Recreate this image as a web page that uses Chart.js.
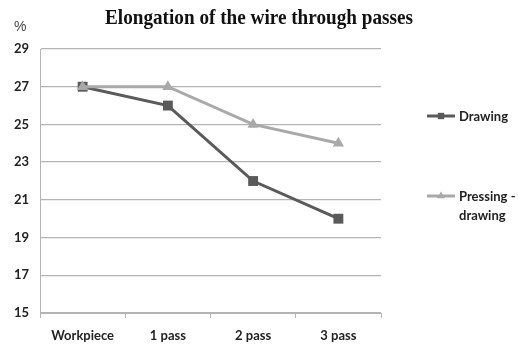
<!DOCTYPE html>
<html>
<head>
<meta charset="utf-8">
<script src="https://cdn.jsdelivr.net/npm/chart.js@4/dist/chart.umd.min.js"></script>
<style>
  html, body { margin: 0; padding: 0; background: #fff; }
  #wrap { width: 518px; height: 351px; position: relative; }
</style>
</head>
<body>
<div id="wrap"><canvas id="c"></canvas></div>
<script>
// Datos
const categories = ['Workpiece', '1 pass', '2 pass', '3 pass'];
const drawing = [27, 26, 22, 20];
const pressingDrawing = [27, 27, 25, 24];
const yTicks = [15, 17, 19, 21, 23, 25, 27, 29];

const TITLE = 'Elongation of the wire through passes';
const COLOR_DRAW  = '#5a5a5a';
const COLOR_PRESS = '#a9a9a9';
const COLOR_GRID  = '#b4b4b4';
const COLOR_TEXT  = '#222';
const SANS = 'Lato, "DejaVu Sans Condensed", sans-serif';

// texto comprimido horizontalmente (el original está algo estirado)
function squeezedText(ctx, text, x, y, width, font, align) {
  ctx.save();
  ctx.font = font;
  const w = ctx.measureText(text).width;
  const s = Math.min(1, width / w);
  ctx.translate(x, y);
  ctx.scale(s, 1);
  ctx.textAlign = align || 'center';
  ctx.fillText(text, 0, 0);
  ctx.restore();
}

// título, "%" y leyenda dibujados a mano
const decor = {
  id: 'decor',
  afterDraw(chart) {
    const ctx = chart.ctx;
    ctx.save();
    ctx.fillStyle = '#111';
    ctx.textBaseline = 'alphabetic';
    squeezedText(ctx, TITLE, 259, 24, 308, 'bold 21px "Liberation Serif", serif');
    ctx.fillStyle = '#444';
    ctx.font = '14px "Liberation Sans", sans-serif';
    ctx.textAlign = 'left';
    ctx.fillText('%', 14, 31);

    const items = [
      { label: ['Drawing'], color: COLOR_DRAW, style: 'rect', y: 116 },
      { label: ['Pressing -', 'drawing'], color: COLOR_PRESS, style: 'triangle', y: 196 },
    ];
    items.forEach(it => {
      ctx.strokeStyle = it.color;
      ctx.lineWidth = 3;
      ctx.beginPath();
      ctx.moveTo(427, it.y);
      ctx.lineTo(455, it.y);
      ctx.stroke();
      ctx.fillStyle = it.color;
      Chart.helpers.drawPoint(ctx, { pointStyle: it.style, radius: 4.5, borderWidth: 0 }, 441, it.y);
      ctx.fillStyle = COLOR_TEXT;
      ctx.font = 'bold 13px ' + SANS;
      ctx.textAlign = 'left';
      ctx.textBaseline = 'middle';
      it.label.forEach((t, i) => ctx.fillText(t, 459, it.y + 1 + i * 19));
    });
    ctx.restore();
  }
};

new Chart(document.getElementById('c'), {
  type: 'line',
  data: {
    labels: categories,
    datasets: [
      {
        label: 'Drawing',
        data: drawing,
        borderColor: COLOR_DRAW,
        backgroundColor: COLOR_DRAW,
        borderWidth: 3,
        pointStyle: 'rect',
        pointRadius: 7,
        pointBorderWidth: 0,
        tension: 0,
        order: 1,
      },
      {
        label: 'Pressing - drawing',
        data: pressingDrawing,
        borderColor: COLOR_PRESS,
        backgroundColor: COLOR_PRESS,
        borderWidth: 3,
        pointStyle: 'triangle',
        pointRadius: 6.5,
        pointBorderWidth: 0,
        tension: 0,
        order: 0,
      },
    ],
  },
  options: {
    responsive: true,
    maintainAspectRatio: false,
    animation: false,
    layout: { padding: { top: 49, right: 137, left: 0, bottom: 0 } },
    scales: {
      x: {
        offset: true,
        grid: { offset: true, drawOnChartArea: false, drawTicks: true, tickLength: 5, color: COLOR_GRID },
        border: { color: COLOR_GRID },
        ticks: { color: COLOR_TEXT, padding: 10, font: { family: SANS, size: 13, weight: 'bold' }, maxRotation: 0 },
        afterFit(s) { s.height = 38; },
      },
      y: {
        min: 15,
        max: 29,
        afterBuildTicks(s) { s.ticks = yTicks.map(v => ({ value: v })); },
        grid: { color: COLOR_GRID, drawTicks: false, lineWidth: 1.3 },
        border: { color: COLOR_GRID },
        ticks: { color: COLOR_TEXT, padding: 11, font: { family: SANS, size: 13, weight: 'bold' } },
        afterFit(s) { s.width = 40; },
      },
    },
    plugins: {
      legend: { display: false },
      title: { display: false },
      tooltip: { enabled: false },
    },
  },
  plugins: [decor],
});
</script>
</body>
</html>
